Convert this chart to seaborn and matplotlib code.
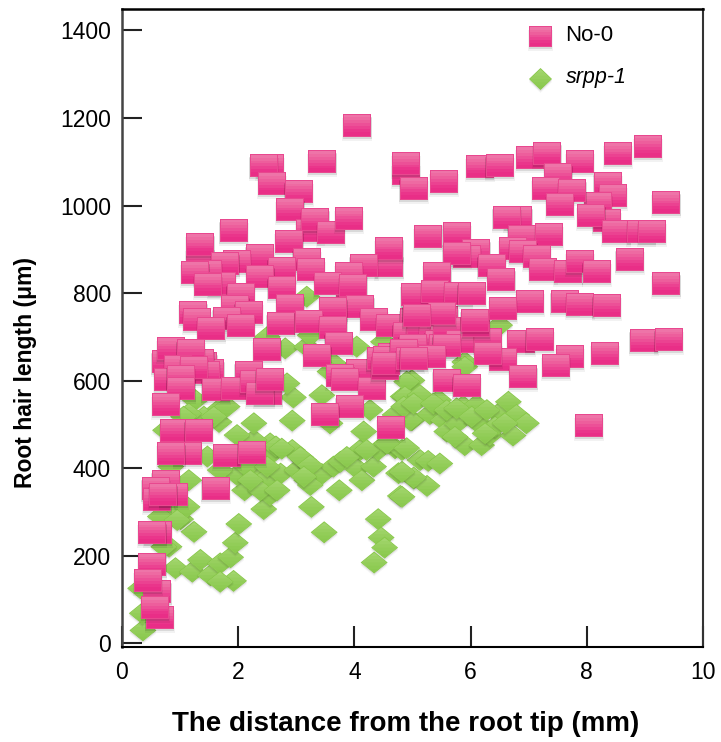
import numpy as np
import pandas as pd
import matplotlib
matplotlib.use("Agg")
import matplotlib.pyplot as plt
import seaborn as sns
from matplotlib.path import Path

# values
no0_x = [4.05, 2.55, 2.44, 3.45, 2.58, 3.04, 2.90, 3.24, 3.33, 3.60,
         3.91, 1.92, 1.35, 1.35, 2.88, 2.37, 1.98, 1.78, 1.48, 1.26, 3.18,
         3.25, 2.75, 4.60, 4.60, 4.16, 3.93, 3.91, 4.89, 4.89, 5.02, 5.27,
         1.72, 1.48, 2.38, 2.75, 3.55, 3.98, 2.04, 1.95, 2.18, 2.90,
         4.10, 3.64, 5.04, 1.80, 1.23, 1.29, 1.54, 2.04, 2.73, 3.21, 3.64,
         4.34, 4.62, 5.02, 5.30, 5.07, 4.90, 2.50, 3.73, 3.36, 1.40, 1.52, 1.35, 0.75, 0.84, 1.18,
         1.44, 0.97, 1.24, 0.80, 1.01, 1.02, 1.61, 2.18, 1.95, 2.27,
         2.52, 2.38, 2.54, 0.76, 0.90, 1.32, 1.13, 0.85, 1.81, 2.23,
         1.61, 0.75, 0.58, 0.61, 0.89, 0.71, 0.62, 0.52, 0.52, 0.61,
         0.45, 0.65, 0.57, 4.09, 3.76, 3.84, 4.30, 4.45, 4.53, 4.72, 4.65, 4.56, 3.92,
         3.50, 4.63, 5.13, 5.20, 5.40, 5.55, 5.30, 5.15, 5.35, 5.55, 5.45, 5.53, 5.60, 5.00, 4.85,
         4.55, 4.96, 5.82, 6.30, 6.87, 7.19, 6.56, 6.30, 5.59, 5.33,
         5.02, 6.91, 7.71, 7.47, 8.31, 8.98, 9.41, 5.59, 5.93, 8.04,
         6.09, 5.54, 6.16, 6.50, 7.02, 7.32, 7.88, 8.54, 9.05, 7.51,
         8.36, 9.37, 8.45, 8.19, 7.30, 7.75, 7.54, 8.34, 8.08, 6.82,
         6.62, 8.51, 8.94, 9.12, 5.76, 6.88, 7.35, 6.10, 5.93, 5.76,
         6.73, 6.91, 7.14, 6.36, 6.53, 7.25, 7.68, 7.88, 8.17, 8.74,
         9.37, 5.43, 5.04, 5.39, 5.79, 6.02, 7.02, 7.62, 7.88, 8.34,
         6.56, 6.07, 5.50, 5.07]
no0_y = [1184, 1092, 1092, 1100, 1050, 1033, 991, 944, 968, 939,
         971, 944, 880, 911, 919, 885, 872, 868, 850, 847, 877,
         853, 857, 864, 902, 864, 795, 845, 1074, 1096, 1039, 930,
         823, 820, 837, 813, 822, 818, 796, 769, 757, 771,
         769, 765, 796, 742, 755, 739, 720, 727, 731, 735, 722,
         739, 727, 741, 748, 750, 708, 672, 685, 657, 640, 624, 647, 644, 674, 668,
         620, 632, 630, 604, 609, 583, 579, 620, 583, 598,
         572, 572, 602, 546, 487, 487, 433, 433, 429, 436,
         353, 369, 354, 328, 341, 341, 254, 254, 181, 118,
         145, 59, 82, 624, 613, 602, 583, 650, 628, 650, 660, 652, 541,
         523, 494, 700, 675, 735, 745, 712, 720, 715, 700, 690, 681, 720, 680, 670,
         640, 651, 689, 695, 689, 695, 649, 663, 681, 655,
         651, 609, 655, 634, 663, 691, 695, 600, 590, 497,
         727, 1056, 1089, 1092, 1109, 1119, 1100, 1119, 1136, 1070,
         1051, 1007, 1022, 1005, 1039, 1034, 1003, 967, 977, 973,
         973, 942, 942, 940, 937, 929, 934, 898, 883, 891,
         902, 895, 883, 864, 831, 855, 850, 873, 850, 878,
         822, 845, 796, 803, 800, 800, 780, 780, 775, 773,
         765, 738, 754, 750]

srpp_x = [0.36, 0.35, 0.32, 0.81, 0.92, 1.21, 1.35, 1.52, 1.69, 1.87,
          1.92, 1.69, 1.95, 2.01, 1.24, 1.01, 1.01, 1.15, 0.86, 0.66,
          2.44, 2.11, 2.55, 1.98, 2.30, 2.44, 2.73, 3.01, 3.18, 3.13,
          3.44, 3.24, 2.93, 2.55, 2.27, 1.98, 2.27, 2.93, 1.47, 1.69,
          2.15, 2.58, 2.50, 0.75, 0.84, 3.26, 3.48, 3.74, 3.64, 3.76,
          4.04, 4.13, 4.10, 4.33, 4.41, 4.70, 4.16, 3.58, 3.44, 2.95,
          4.27, 4.76, 4.79, 5.02, 4.41, 4.46, 4.52, 4.34, 4.84, 4.99,
          4.70, 4.99, 5.13, 1.26, 1.69, 1.41, 1.67, 1.15, 2.84, 2.81,
          3.18, 4.04, 3.64, 3.58, 3.24, 4.50, 4.90, 4.87, 5.13, 5.45,
          5.30, 4.96, 4.85, 5.53, 5.59, 5.76, 5.90, 6.19, 5.87, 6.10,
          6.33, 6.48, 6.65, 6.79, 6.96, 6.73, 6.42, 6.10, 5.27, 5.47,
          5.25, 5.02, 4.82, 4.82, 4.82, 5.90, 5.90, 6.50, 3.18, 2.50,
          2.65, 2.75, 3.07, 3.24, 3.87, 4.21, 4.56, 4.90, 2.38, 2.67,
          2.21, 3.13, 1.12, 0.95, 0.72, 1.81, 1.58, 1.06, 5.02, 5.36,
          5.59, 5.76, 6.02, 6.28, 5.73, 6.25, 6.59]
srpp_y = [30, 69, 126, 221, 172, 164, 191, 156, 183, 197,
          143, 141, 230, 273, 255, 284, 309, 373, 297, 290,
          307, 350, 339, 385, 385, 373, 388, 396, 373, 419,
          387, 362, 442, 457, 465, 476, 503, 509, 427, 396,
          404, 434, 404, 487, 404, 312, 254, 350, 404, 415,
          400, 373, 442, 404, 442, 446, 484, 503, 567, 562,
          533, 389, 337, 377, 284, 242, 219, 185, 564, 601,
          522, 510, 419, 556, 537, 518, 506, 525, 594, 674,
          678, 678, 640, 621, 704, 689, 598, 564, 567, 556,
          524, 510, 541, 510, 484, 503, 453, 453, 542, 507,
          476, 525, 552, 522, 503, 475, 495, 545, 417, 411,
          360, 379, 392, 335, 442, 643, 632, 727, 792, 700,
          450, 445, 426, 407, 426, 442, 457, 446, 350, 350,
          373, 381, 312, 282, 221, 541, 518, 518, 548, 548,
          533, 537, 518, 533, 472, 480, 503]

legend_labels = ["No-0", "srpp-1"]
x_ticks = [0, 2, 4, 6, 8, 10]
y_ticks = [0, 200, 400, 600, 800, 1000, 1200, 1400]

W, H = 721, 742
sns.set_theme(style="white")
plt.rcParams["font.family"] = ["Liberation Sans", "DejaVu Sans"]

# marker size in px (unit of the scatter marker = 28 px)
UNIT = 28.0
MARKER_S = (UNIT * 72 / 100) ** 2


def rect(hw, y_top, y_bot, dy=0.0):
    verts = [(-hw, y_bot + dy), (hw, y_bot + dy), (hw, y_top + dy), (-hw, y_top + dy), (-hw, y_bot + dy)]
    return Path(verts, closed=True)


def diamond_below(hw, hh, y, dy=0.0):
    """Part of a diamond below the height y."""
    w = hw * (1 - abs(y) / hh)
    if y > 0:
        verts = [(-w, y), (w, y), (hw, 0), (0, -hh), (-hw, 0), (-w, y)]
    else:
        verts = [(-w, y), (w, y), (0, -hh), (-w, y)]
    return Path([(a, b + dy) for a, b in verts], closed=True)


def square_style(w_px, h_px):
    hw, hh = w_px / 2 / UNIT, h_px / 2 / UNIT
    px = 1 / UNIT
    paths = [rect(hw + px, hh - px, -hh - px, -3 * px), rect(hw + px * .3, hh - px, -hh, -2 * px), rect(hw, hh, -hh)]
    colors = [(0, 0, 0, .05), (0, 0, 0, .10), "#e8488f"]
    inner = hw - px
    top = hh - px
    grad = ["#ee74a8", "#ee6aa2", "#ed5e9c", "#ec5097", "#eb4291", "#ea358b", "#e92e87"]
    for y, c in zip(np.linspace(top, -hh + 2 * px, len(grad), endpoint=False), grad):
        paths.append(rect(inner, y, -hh + px))
        colors.append(c)
    return paths, colors


def diamond_style(w_px, h_px):
    hw, hh = w_px / 2 / UNIT, h_px / 2 / UNIT
    px = 1 / UNIT
    paths = [diamond_below(hw, hh, hh * .999, -3 * px), diamond_below(hw, hh, hh * .999, -1.5 * px), diamond_below(hw, hh, hh * .999)]
    colors = [(0, 0, 0, .04), (0, 0, 0, .08), "#87c748"]
    ihw, ihh = hw - 1.3 * px, hh - 1.1 * px
    grad = ["#a2d56e", "#9cd265", "#97cf5e", "#92cd58", "#8ecb53", "#8bc94f"]
    for y, c in zip(np.linspace(ihh * .999, -ihh, len(grad), endpoint=False), grad):
        paths.append(diamond_below(ihw, ihh, y))
        colors.append(c)
    return paths, colors


def restyle(coll, style):
    # every point gets its whole stack of layers, so overlaps stay in drawing order
    paths, colors = style
    coll.set_offsets(np.repeat(np.asarray(coll.get_offsets()), len(paths), axis=0))
    coll.set_paths(paths)
    coll.set_facecolor(colors)
    coll.set_edgecolor("none")
    coll.set_linewidth(0)


fig = plt.figure(figsize=(W / 100, H / 100), dpi=100, facecolor="white")
ax = fig.add_axes([122 / W, 1 - 647 / H, (703 - 122) / W, (647 - 9) / H])

srpp = pd.DataFrame({"x": srpp_x, "y": srpp_y})
no0 = pd.DataFrame({"x": no0_x, "y": no0_y})

sns.scatterplot(data=srpp, x="x", y="y", marker="D", s=MARKER_S, legend=False, ax=ax)
restyle(ax.collections[-1], diamond_style(27, 22))
sns.scatterplot(data=no0, x="x", y="y", marker="s", s=MARKER_S, legend=False, ax=ax)
restyle(ax.collections[-1], square_style(28, 23))

# legend by hand, same marker stacks as the data
leg_x = (540.5 - 122) / (703 - 122)
leg_text_x = (565.5 - 122) / (703 - 122)
leg_y = [(647 - 36.7) / 638, (647 - 79) / 638]
sns.scatterplot(x=[leg_x], y=[leg_y[0]], marker="s", s=MARKER_S, legend=False, ax=ax, transform=ax.transAxes, clip_on=False)
restyle(ax.collections[-1], square_style(23, 21))
sns.scatterplot(x=[leg_x], y=[leg_y[1]], marker="D", s=MARKER_S, legend=False, ax=ax, transform=ax.transAxes, clip_on=False)
restyle(ax.collections[-1], diamond_style(23, 22))
ax.text(leg_text_x, leg_y[0] + .002, legend_labels[0], transform=ax.transAxes, fontsize=16, va="center", color="black")
ax.text(leg_text_x, leg_y[1] + .002, legend_labels[1], transform=ax.transAxes, fontsize=15.5, va="center", style="italic", color="black")

ax.set_xlim(0, 10)
ax.set_ylim(-8, 1449)
ax.set_xticks(x_ticks)
ax.set_yticks(y_ticks)
ax.tick_params(axis="x", direction="in", length=15, width=1.5, color="#222222", labelsize=16.5, pad=10, labelcolor="black")
ax.tick_params(axis="y", direction="in", length=14.5, width=1.5, color="#222222", labelsize=16.5, pad=8, labelcolor="black")
ax.xaxis.set_ticks_position("bottom")
ax.yaxis.set_ticks_position("left")

for side, col, lw in [("left", "#444444", 1.8), ("right", "#333333", 1.5), ("top", "black", 1.8), ("bottom", "black", 1.5)]:
    ax.spines[side].set_visible(True)
    ax.spines[side].set_color(col)
    ax.spines[side].set_linewidth(lw)

ax.set_xlabel("The distance from the root tip (mm)", fontsize=20, fontweight="bold", color="black", va="center")
ax.xaxis.set_label_coords((406 - 122) / 581, (647 - 724) / 638)
ax.set_ylabel("Root hair length (μm)", fontsize=16.5, fontweight="bold", color="black", va="center")
ax.yaxis.set_label_coords((26 - 122) / 581, (647 - 372) / 638)

fig.savefig("out.png", dpi=100)
